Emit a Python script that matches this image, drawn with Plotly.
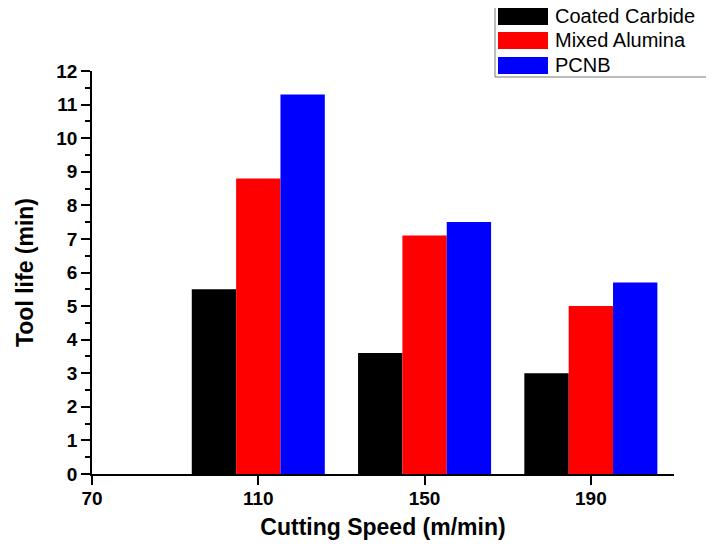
import plotly.graph_objects as go

speeds = [110, 150, 190]
coated_carbide = [5.5, 3.6, 3.0]
mixed_alumina = [8.8, 7.1, 5.0]
pcnb = [11.3, 7.5, 5.7]
series_names = ["Coated Carbide", "Mixed Alumina", "PCNB"]
series_colors = ["#000000", "#ff0000", "#0000ff"]
x_ticks = [70, 110, 150, 190]
y_ticks = list(range(0, 13))

FONT = "Arial, Liberation Sans, sans-serif"
OFF = 8  # default body margin of the html page
W, H = 714 - OFF, 548 - OFF
# plot area in page pixels: x 92..674, y 71..474
L, R, T, B = 92 - OFF, W - (674 - OFF), 71 - OFF, H - (474 - OFF)
PW, PH = W - L - R, H - T - B


def px(x):
    return (x - OFF - L) / PW


def py(y):
    return (H - B - (y - OFF)) / PH


fig = go.Figure()
for name, vals, col in zip(series_names, [coated_carbide, mixed_alumina, pcnb], series_colors):
    fig.add_trace(go.Bar(x=speeds, y=vals, name=name, showlegend=False,
                         marker=dict(color=col, line=dict(width=0))))

# manual legend (large colour patches as in the original)
shapes = [dict(type="rect", xref="paper", yref="paper", x0=px(495), x1=px(713), y0=py(77), y1=py(4),
               line=dict(color="#777777", width=1), fillcolor="white", layer="above")]
annotations = []
rows = [(7, 25), (32, 49), (57, 74)]
for (y0, y1), name, col in zip(rows, series_names, series_colors):
    shapes.append(dict(type="rect", xref="paper", yref="paper", x0=px(498), x1=px(548),
                       y0=py(y1), y1=py(y0), line=dict(width=0), fillcolor=col, layer="above"))
    annotations.append(dict(xref="paper", yref="paper", x=px(553), y=py((y0 + y1) / 2),
                            xanchor="left", yanchor="middle", text=name, showarrow=False,
                            font=dict(size=20, family=FONT, color="black")))

fig.update_layout(
    width=W, height=H,
    barmode="group", bargap=0.2, bargroupgap=0,
    plot_bgcolor="white", paper_bgcolor="white",
    margin=dict(l=L, r=R, t=T, b=B),
    font=dict(family=FONT, color="black"),
    shapes=shapes, annotations=annotations,
    showlegend=False,
)
fig.update_xaxes(range=[70, 210], tickvals=x_ticks, ticktext=[str(v) for v in x_ticks],
                 automargin=False, ticklabelstandoff=-3,
                 showline=True, linecolor="black", linewidth=1.5, ticks="outside", ticklen=9,
                 tickwidth=1.5, tickcolor="black", showgrid=False, zeroline=False,
                 tickfont=dict(size=19, family=FONT, color="black", weight="bold"),
                 title=dict(text="<b>Cutting Speed (m/min)</b>", font=dict(size=23, family=FONT, color="black"), standoff=11))
fig.update_yaxes(range=[0, 12], tickvals=y_ticks, showline=True, linecolor="black", linewidth=1.5,
                 automargin=False,
                 ticks="outside", ticklen=9, tickwidth=1.5, tickcolor="black", showgrid=False, zeroline=False,
                 minor=dict(ticks="outside", ticklen=5, dtick=0.5, tickcolor="black", tickwidth=1.5, showgrid=False),
                 tickfont=dict(size=19, family=FONT, color="black", weight="bold"),
                 title=dict(text="<b>Tool life (min)</b>", font=dict(size=23, family=FONT, color="black"), standoff=16))

fig.write_html("out.html")
